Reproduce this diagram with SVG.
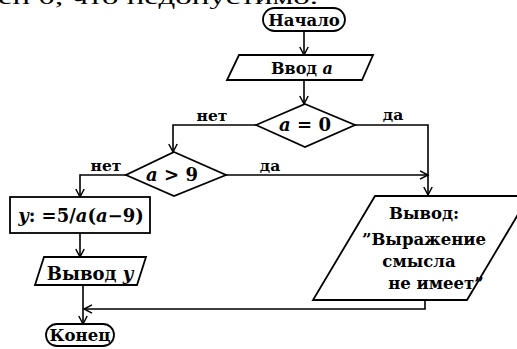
<svg xmlns="http://www.w3.org/2000/svg" width="517" height="349" viewBox="0 0 517 349">
  <style>
    .shape { fill: #fff; stroke: #000; stroke-width: 1.8; }
    .line { fill: none; stroke: #000; stroke-width: 1.6; }
    .t { font-family: "DejaVu Serif", "Liberation Serif", serif; font-weight: bold; font-size: 18px; fill: #000; text-anchor: middle; }
    .sm { font-size: 16.5px; }
    .lbl { font-family: "DejaVu Serif", "Liberation Serif", serif; font-weight: bold; font-size: 15.5px; fill: #000; text-anchor: middle; }
    .it { font-style: italic; }
    .head { font-family: "Liberation Serif", serif; font-size: 21px; fill: #000; }
  </style>
  <defs>
    <marker id="arr" markerWidth="12" markerHeight="10" refX="10" refY="5" orient="auto" markerUnits="userSpaceOnUse">
      <path d="M2,0.8 L10,5 L2,9.2" fill="none" stroke="#000" stroke-width="1.5"/>
    </marker>
  </defs>
  <rect width="517" height="349" fill="#fff"/>

  <!-- tail of the preceding text line -->
  <text class="head" x="-2" y="4" textLength="320" lengthAdjust="spacingAndGlyphs">ен 0, что недопустимо.</text>

  <!-- connectors -->
  <g id="connectors">
    <path class="line" d="M304,31 V55" marker-end="url(#arr)"/>
    <path class="line" d="M304,80 V104" marker-end="url(#arr)"/>
    <path class="line" d="M256,125 H173 V152" marker-end="url(#arr)"/>
    <path class="line" d="M355,125 H428 V195" marker-end="url(#arr)"/>
    <path class="line" d="M126,175 H80 V197" marker-end="url(#arr)"/>
    <path class="line" d="M226,175 H428" marker-end="url(#arr)"/>
    <path class="line" d="M80,233 V257" marker-end="url(#arr)"/>
    <path class="line" d="M83,285 V324" marker-end="url(#arr)"/>
    <path class="line" d="M425,300 V309 H84" marker-end="url(#arr)"/>
    <text class="lbl" x="212" y="121">нет</text>
    <text class="lbl" x="393" y="120">да</text>
    <text class="lbl" x="106" y="171">нет</text>
    <text class="lbl" x="270" y="171">да</text>
  </g>

  <g id="start">
    <rect class="shape" x="263" y="8" width="82" height="23" rx="11.5"/>
    <text class="t sm" x="304" y="26">Начало</text>
  </g>

  <g id="input-a">
    <polygon class="shape" points="239,55 373,55 362,80 227,80"/>
    <text class="t" x="302" y="74" style="font-size:16px">Ввод <tspan class="it">a</tspan></text>
  </g>

  <g id="cond-a-zero">
    <polygon class="shape" points="305,104 355,125 305,147 256,125"/>
    <text class="t" x="305" y="131"><tspan class="it">a</tspan> = 0</text>
  </g>

  <g id="cond-a-gt-9">
    <polygon class="shape" points="174,152 226,175 174,196 126,175"/>
    <text class="t" x="172" y="181"><tspan class="it">a</tspan> &gt; 9</text>
  </g>

  <g id="calc-y">
    <rect class="shape" x="10" y="197" width="140" height="36"/>
    <text class="t" x="81" y="222"><tspan class="it">y</tspan>: =5/<tspan class="it">a</tspan>(<tspan class="it">a</tspan>−9)</text>
  </g>

  <g id="output-y">
    <polygon class="shape" points="44,257 146,257 137,285 35,285"/>
    <text class="t" x="90" y="280">Вывод <tspan class="it">y</tspan></text>
  </g>

  <g id="output-msg">
    <polygon class="shape" points="375,196 529,196 467,300 313,300"/>
    <text class="t sm" x="424" y="219">Вывод:</text>
    <text class="t sm" x="424" y="245">”Выражение</text>
    <text class="t sm" x="419" y="267">смысла</text>
    <text class="t sm" x="436" y="289">не имеет”</text>
  </g>

  <g id="end">
    <rect class="shape" x="46" y="324" width="68" height="22" rx="11"/>
    <text class="t" x="80" y="341" style="font-size:16.5px">Конец</text>
  </g>
</svg>
